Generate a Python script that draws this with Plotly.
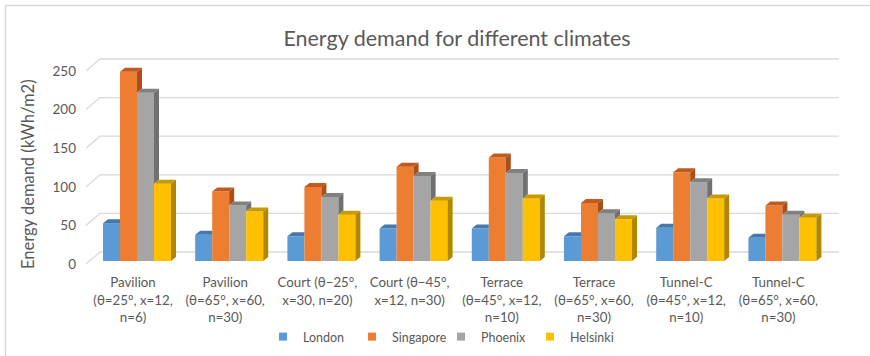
import plotly.graph_objects as go

# ---------------- data ----------------
categories = [
    "Pavilion<br>(θ=25°, x=12,<br>n=6)",
    "Pavilion<br>(θ=65°, x=60,<br>n=30)",
    "Court (θ−25°,<br>x=30, n=20)",
    "Court (θ−45°,<br>x=12, n=30)",
    "Terrace<br>(θ=45°, x=12,<br>n=10)",
    "Terrace<br>(θ=65°, x=60,<br>n=30)",
    "Tunnel-C<br>(θ=45°, x=12,<br>n=10)",
    "Tunnel-C<br>(θ=65°, x=60,<br>n=30)",
]
series_names = ["London", "Singapore", "Phoenix", "Helsinki"]
london = [49, 34, 32, 42, 42, 32, 43, 30]
singapore = [245, 90, 96, 122, 134, 75, 115, 72]
phoenix = [218, 72, 83, 110, 114, 62, 102, 60]
helsinki = [100, 64, 60, 78, 81, 54, 81, 56]
y_ticks = [0, 50, 100, 150, 200, 250]

series_values = [london, singapore, phoenix, helsinki]

# ---------------- styles ----------------
front_colors = ["#5B9BD5", "#ED7D31", "#A5A5A5", "#FFC000"]
top_colors = ["#4677AE", "#C25A1F", "#808080", "#C99A00"]
side_colors = ["#3E6A98", "#A94F1B", "#707070", "#B08700"]
text_color = "#595959"
grid_color = "#D9D9D9"
FONT = "Lato"

W, H = 870, 356
L, R, T, B = 86, 840, 56, 264          # plot area in px
cat0_px, cat_step_px = 133, 92.2       # tick centre of first category, spacing
y0_px, py = 261, 0.772                 # px of value 0, px per unit

xmin = (L - cat0_px) / cat_step_px
xmax = (R - cat0_px) / cat_step_px
ymin = -(B - y0_px) / py
ymax = (y0_px - T) / py

bar_w = 17 / cat_step_px
bar_shift = 4 / cat_step_px
dxu = 5 / cat_step_px
dyu = 4 / py

fig = go.Figure()

n_ser = len(series_values)
positions = []
for j, vals in enumerate(series_values):
    xs = [i + bar_shift + (j - (n_ser - 1) / 2) * bar_w for i in range(len(categories))]
    positions.append(xs)
    fig.add_trace(go.Bar(
        x=xs, y=vals, width=bar_w, name=series_names[j],
        marker=dict(color=front_colors[j], line=dict(width=0)),
        legendgroup=series_names[j], showlegend=False,
        hovertemplate=series_names[j] + ": %{y}<extra></extra>",
    ))

# 3D top and side faces (computed from data, clipped by the neighbouring bar)
for j, vals in enumerate(series_values):
    tx, ty, sx, sy = [], [], [], []
    for i, v in enumerate(vals):
        x0 = positions[j][i] - bar_w / 2
        x1 = positions[j][i] + bar_w / 2
        nxt = series_values[j + 1][i] if j + 1 < n_ser else None
        # top face
        if nxt is not None and nxt >= v:
            tx += [x0, x1, x1, x0 + dxu, x0, None]
            ty += [v, v, v + dyu, v + dyu, v, None]
        else:
            tx += [x0, x1, x1 + dxu, x0 + dxu, x0, None]
            ty += [v, v, v + dyu, v + dyu, v, None]
        # side face
        if nxt is None:
            sx += [x1, x1 + dxu, x1 + dxu, x1, x1, None]
            sy += [0, dyu, v + dyu, v, 0, None]
        elif v > nxt:
            sx += [x1, x1 + dxu, x1 + dxu, x1, x1, None]
            sy += [nxt, nxt + dyu, v + dyu, v, nxt, None]
    fig.add_trace(go.Scatter(x=tx, y=ty, mode="lines", fill="toself",
                             fillcolor=top_colors[j], line=dict(width=0, color=top_colors[j]),
                             hoverinfo="skip", showlegend=False, legendgroup=series_names[j]))
    if sx:
        fig.add_trace(go.Scatter(x=sx, y=sy, mode="lines", fill="toself",
                                 fillcolor=side_colors[j], line=dict(width=0, color=side_colors[j]),
                                 hoverinfo="skip", showlegend=False, legendgroup=series_names[j]))

# legend entries
for j, name in enumerate(series_names):
    fig.add_trace(go.Scatter(x=[None], y=[None], mode="markers", name=name,
                             marker=dict(symbol="square", size=8, color=front_colors[j]),
                             legendgroup=name, showlegend=True))

# perspective gridlines
x_front = xmin
x_back = xmin + 14 / cat_step_px
x_end = (839 - cat0_px) / cat_step_px
shapes = []
for v in y_ticks:
    yf = v - 3 / py
    yb = v + 9 / py
    shapes.append(dict(type="path", xref="x", yref="y", layer="below",
                       path=f"M {x_front},{yf} L {x_back},{yb} L {x_end},{yb}",
                       line=dict(color=grid_color, width=1.3)))

# chart border (top and left)
def px_to_paper_x(px):
    return (px - L) / (R - L)

def px_to_paper_y(px):
    return (B - px) / (B - T)

shapes.append(dict(type="line", xref="paper", yref="paper",
                   x0=px_to_paper_x(5), x1=px_to_paper_x(870),
                   y0=px_to_paper_y(5.5), y1=px_to_paper_y(5.5),
                   line=dict(color="#D9D9D9", width=1.5)))
shapes.append(dict(type="line", xref="paper", yref="paper",
                   x0=px_to_paper_x(5.5), x1=px_to_paper_x(5.5),
                   y0=px_to_paper_y(5), y1=px_to_paper_y(356),
                   line=dict(color="#D9D9D9", width=1.5)))

fig.update_layout(
    template="none",
    width=W, height=H,
    margin=dict(l=L, r=W - R, t=T, b=H - B, pad=0, autoexpand=False),
    paper_bgcolor="white", plot_bgcolor="white",
    barmode="overlay",
    font=dict(family=FONT, color=text_color, size=13),
    title=dict(text="Energy demand for different climates",
               x=457 / W, xanchor="center", y=1 - 38 / H, yanchor="middle",
               font=dict(family=FONT, size=21.5, color=text_color)),
    xaxis=dict(range=[xmin, xmax], tickvals=list(range(len(categories))),
               ticktext=categories, showgrid=False, zeroline=False, showline=False,
               ticks="", tickfont=dict(size=13.3, color=text_color), ticklabelstandoff=9,
               fixedrange=True, automargin=False),
    yaxis=dict(range=[ymin, ymax], tickvals=y_ticks, showgrid=False, zeroline=False,
               showline=False, ticks="", tickfont=dict(size=13.5, color=text_color),
               ticklabelstandoff=9, ticklabelshift=3, fixedrange=True, automargin=False),
    legend=dict(orientation="h", x=px_to_paper_x(441), xanchor="center",
                y=px_to_paper_y(337), yanchor="middle", entrywidth=44,
                font=dict(size=12.5, color=text_color), itemwidth=30,
                bgcolor="rgba(0,0,0,0)"),
    shapes=shapes,
    annotations=[dict(text="Energy demand (kWh/m2)", textangle=-90,
                      xref="paper", yref="paper",
                      x=px_to_paper_x(28), y=px_to_paper_y(174),
                      xanchor="center", yanchor="middle", showarrow=False,
                      font=dict(family=FONT, size=16.5, color=text_color))],
    showlegend=True,
)

fig.write_html("out.html")
